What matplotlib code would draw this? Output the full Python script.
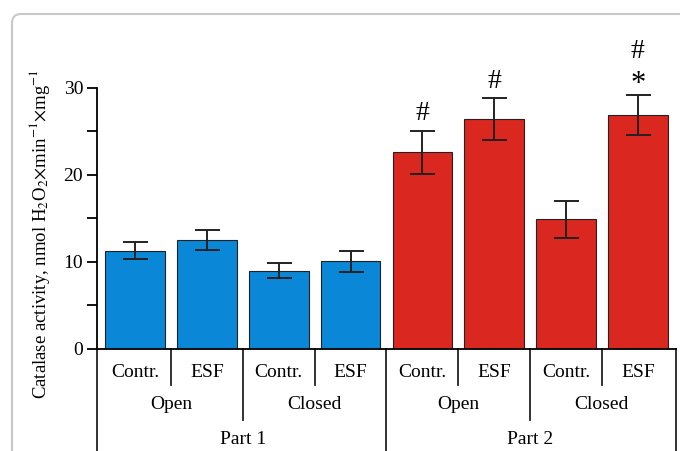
"""Catalase activity bar chart, two parts with open/closed groups."""

import numpy as np
import matplotlib.pyplot as plt
from matplotlib.patches import FancyBboxPatch
from matplotlib.transforms import IdentityTransform, blended_transform_factory

plt.rcParams['font.family'] = ['Liberation Serif', 'DejaVu Serif']
plt.rcParams['mathtext.fontset'] = 'stix'

# data
treatments = ['Contr.', 'ESF', 'Contr.', 'ESF', 'Contr.', 'ESF', 'Contr.', 'ESF']
conditions = ['Open', 'Closed', 'Open', 'Closed']
parts = ['Part 1', 'Part 2']
means = [11.3, 12.5, 9.0, 10.1, 22.6, 26.4, 14.9, 26.9]
errors = [1.0, 1.15, 0.85, 1.2, 2.5, 2.4, 2.1, 2.35]
marks = ['', '', '', '', '#', '#', '', '*']
top_marks = ['', '', '', '', '', '', '', '#']

blue = '#0a87d6'
red = '#da2720'
colors = [blue] * 4 + [red] * 4

fig = plt.figure(figsize=(6.8, 4.51), dpi=100)
ax = fig.add_axes([0.1426, 0.2262, 0.8514, 0.5787])

x = np.arange(len(means))
ax.bar(x, means, width=0.83, color=colors, edgecolor='#222222', linewidth=0.8, zorder=2)
ax.errorbar(x, means, yerr=errors, fmt='none', ecolor='#222222', elinewidth=1.4,
            capsize=9, capthick=1.4, zorder=3)

# significance marks above the error bars
for xi, m, e, s, s2 in zip(x, means, errors, marks, top_marks):
    if s == '#':
        ax.text(xi, m + e + 2.0, s, ha='center', va='center', fontsize=20, clip_on=False)
    elif s:
        ax.text(xi, m + e + 1.2, s, ha='center', va='center', fontsize=22, clip_on=False)
    if s2:
        ax.text(xi, m + e + 4.9, s2, ha='center', va='center', fontsize=20, clip_on=False)

ax.set_xlim(-0.53, 7.53)
ax.set_ylim(0, 30)
ax.set_yticks([0, 10, 20, 30])
ax.set_yticks([5, 15, 25], minor=True)
ax.set_xticks([])
ax.tick_params(axis='y', which='both', length=7, width=1.3, labelsize=14, pad=3)
ax.spines['top'].set_visible(False)
ax.spines['right'].set_visible(False)
ax.spines['left'].set_linewidth(1.3)
ax.spines['bottom'].set_linewidth(1.3)
ax.spines['left'].set_bounds(0, 30)

ax.set_ylabel('Catalase activity, nmol H$_2$O$_2$$\\times$min$^{-1}$$\\times$mg$^{-1}$',
              fontsize=13.5)
ax.yaxis.set_label_coords(-0.077, 0.44)

# category table below the axis
trans = blended_transform_factory(ax.transData, ax.transAxes)
line_kw = dict(color='#222222', lw=1.3, transform=trans, clip_on=False)
for sx in [0.5, 2.5, 4.5, 6.5]:
    ax.plot([sx, sx], [0, -0.138], **line_kw)
for sx in [1.5, 5.5]:
    ax.plot([sx, sx], [0, -0.272], **line_kw)
for sx in [-0.53, 3.5, 7.53]:
    ax.plot([sx, sx], [0, -0.45], **line_kw)

for xi, t in zip(x, treatments):
    ax.text(xi, -0.091, t, ha='center', va='center', fontsize=14, transform=trans)
for i, c in enumerate(conditions):
    ax.text(2 * i + 0.5, -0.211, c, ha='center', va='center', fontsize=14, transform=trans)
for i, p in enumerate(parts):
    ax.text(4 * i + 1.5, -0.345, p, ha='center', va='center', fontsize=14, transform=trans)

# rounded panel border
frame = FancyBboxPatch((12, -30), 720, 467, boxstyle='round,pad=0,rounding_size=9',
                       transform=IdentityTransform(), facecolor='none',
                       edgecolor='#c8c8c8', linewidth=1.5)
fig.patches.append(frame)

fig.savefig('out.png', dpi=100)
